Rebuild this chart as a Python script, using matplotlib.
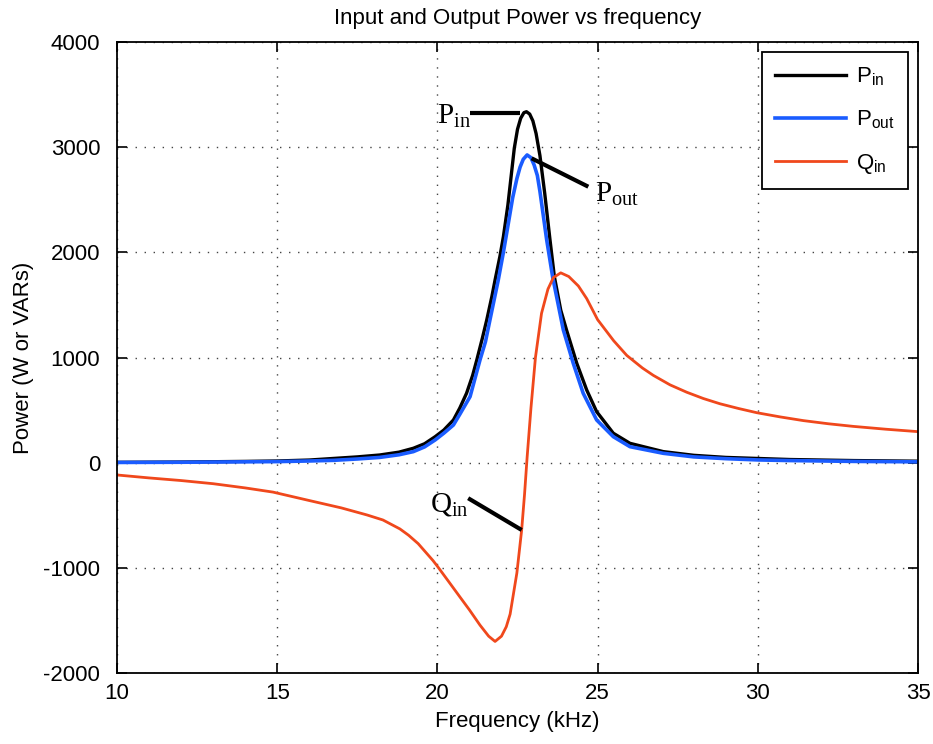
import numpy as np
import matplotlib
matplotlib.use('Agg')
import matplotlib.pyplot as plt

# ------------------------------------------------------------
# data (frequency in kHz, power in W / VAR)
# ------------------------------------------------------------
f_pin = [10.0, 12.0, 14.0, 15.0, 16.0, 16.75, 17.5, 18.2, 18.8, 19.25,
         19.6, 19.93, 20.2, 20.5, 20.7, 20.91, 21.1, 21.23, 21.4, 21.54,
         21.7, 21.8, 21.95, 22.06, 22.2, 22.3, 22.4, 22.5, 22.6, 22.7,
         22.78, 22.88, 22.98, 23.08, 23.2, 23.35, 23.51, 23.65, 23.85, 24.03,
         24.35, 24.66, 24.97, 25.49, 26.01, 27.05, 28.0, 29.0, 30.0, 31.0,
         33.0, 35.0]
p_in = [3, 6, 12, 16, 25, 40, 55, 73, 100, 137,
        180, 247, 310, 406, 520, 660, 830, 977, 1180, 1357,
        1580, 1737, 1960, 2150, 2450, 2720, 2990, 3170, 3275, 3328,
        3337, 3315, 3250, 3130, 2920, 2560, 2130, 1770, 1450, 1262,
        945, 691, 485, 280, 184, 105, 70, 50, 40, 30,
        20, 14]

f_pout = [10.0, 12.0, 14.0, 15.0, 16.0, 16.75, 17.5, 18.2, 18.8, 19.25,
          19.6, 19.93, 20.2, 20.5, 20.7, 21.02, 21.33, 21.5, 21.64, 21.9,
          22.06, 22.2, 22.35, 22.48, 22.58, 22.68, 22.8, 22.92, 23.02, 23.12,
          23.2, 23.41, 23.6, 23.93, 24.24, 24.55, 24.97, 25.49, 26.01, 27.05,
          28.0, 29.0, 30.0, 31.0, 33.0, 35.0]
p_out = [2, 4, 8, 10, 16, 22, 35, 50, 75, 105,
         150, 216, 280, 358, 460, 628, 977, 1150, 1357, 1737,
         2000, 2250, 2520, 2700, 2810, 2885, 2926, 2900, 2830, 2730,
         2580, 2120, 1760, 1262, 945, 660, 406, 247, 152, 89,
         55, 38, 26, 20, 12, 8]

f_qin = [10.0, 11.0, 12.0, 13.0, 14.0, 14.87, 16.0, 17.0, 17.8, 18.3,
         18.83, 19.1, 19.4, 19.86, 20.0, 20.35, 20.71, 21.0, 21.33, 21.6,
         21.8, 22.0, 22.15, 22.27, 22.48, 22.63, 22.72, 22.8, 22.92, 23.06,
         23.25, 23.45, 23.62, 23.85, 24.1, 24.4, 24.66, 25.0, 25.5, 25.91,
         26.4, 26.74, 27.26, 27.78, 28.3, 28.82, 29.4, 29.97, 30.7, 31.42,
         32.2, 32.98, 34.0, 35.0]
q_in = [-117, -145, -170, -200, -240, -280, -360, -430, -497, -545,
        -630, -690, -770, -930, -985, -1130, -1280, -1400, -1545, -1650,
        -1700, -1650, -1560, -1440, -1050, -640, -300, 50, 520, 1000,
        1420, 1650, 1760, 1805, 1770, 1680, 1560, 1360, 1160, 1020,
        900, 830, 740, 670, 610, 560, 515, 475, 435, 400,
        370, 345, 318, 295]

# leader lines for the in-plot labels: (x0, x1), (y0, y1)
lead_pin = ([21.02, 22.58], [3322, 3322])
lead_pout = ([22.94, 24.71], [2894, 2624])
lead_qin = ([20.96, 22.63], [-338, -640])

x_ticks = [10, 15, 20, 25, 30, 35]
y_ticks = [-2000, -1000, 0, 1000, 2000, 3000, 4000]

# ------------------------------------------------------------
plt.rcParams['font.family'] = ['Liberation Sans', 'DejaVu Sans']
plt.rcParams['axes.unicode_minus'] = False
plt.rcParams['mathtext.fontset'] = 'custom'
plt.rcParams['mathtext.rm'] = 'Liberation Serif'
plt.rcParams['mathtext.it'] = 'Liberation Serif:italic'
plt.rcParams['mathtext.sf'] = 'Liberation Sans'

fig = plt.figure(figsize=(9.33, 7.44), dpi=100)
ax = fig.add_axes([117 / 933, 1 - 673 / 744, 801 / 933, 631 / 744])

ax.plot(f_pin, p_in, color='black', lw=2.4, label=r'$\mathsf{P}_{\mathsf{in}}$')
ax.plot(f_pout, p_out, color='#1a5cff', lw=2.6, label=r'$\mathsf{P}_{\mathsf{out}}$')
ax.plot(f_qin, q_in, color='#f0481c', lw=2.0, label=r'$\mathsf{Q}_{\mathsf{in}}$')

# labels with leader lines
for xs, ys in (lead_pin, lead_pout, lead_qin):
    ax.plot(xs, ys, color='black', lw=3, solid_capstyle='butt', zorder=5)
ax.text(19.99, 3220, r'$\mathrm{P}_{\mathrm{in}}$', fontsize=21, ha='left', va='baseline')
ax.text(24.92, 2477, r'$\mathrm{P}_{\mathrm{out}}$', fontsize=21, ha='left', va='baseline')
ax.text(19.77, -469, r'$\mathrm{Q}_{\mathrm{in}}$', fontsize=21, ha='left', va='baseline')

ax.set_xlim(10, 35)
ax.set_ylim(-2000, 4000)
ax.set_xticks(x_ticks)
ax.set_yticks(y_ticks)
ax.tick_params(direction='in', length=7, width=1.2, labelsize=16,
               top=True, right=True, pad=7)
ax.tick_params(axis='y', pad=12)
ax.grid(True, color='#444444', lw=1.0, linestyle=(0, (1, 5.5)))
for sp in ax.spines.values():
    sp.set_linewidth(1.3)

ax.set_title('Input and Output Power vs frequency', fontsize=16, pad=13)
ax.set_xlabel('Frequency (kHz)', fontsize=16, labelpad=5)
ax.set_ylabel('Power (W or VARs)', fontsize=16, labelpad=7)

leg = ax.legend(loc='upper right', fontsize=16, fancybox=False, framealpha=1,
                edgecolor='black', handlelength=3.2, handletextpad=0.45,
                labelspacing=0.95, borderaxespad=0.45, borderpad=0.6)
leg.get_frame().set_linewidth(1.3)

fig.savefig('out.png', dpi=100)
